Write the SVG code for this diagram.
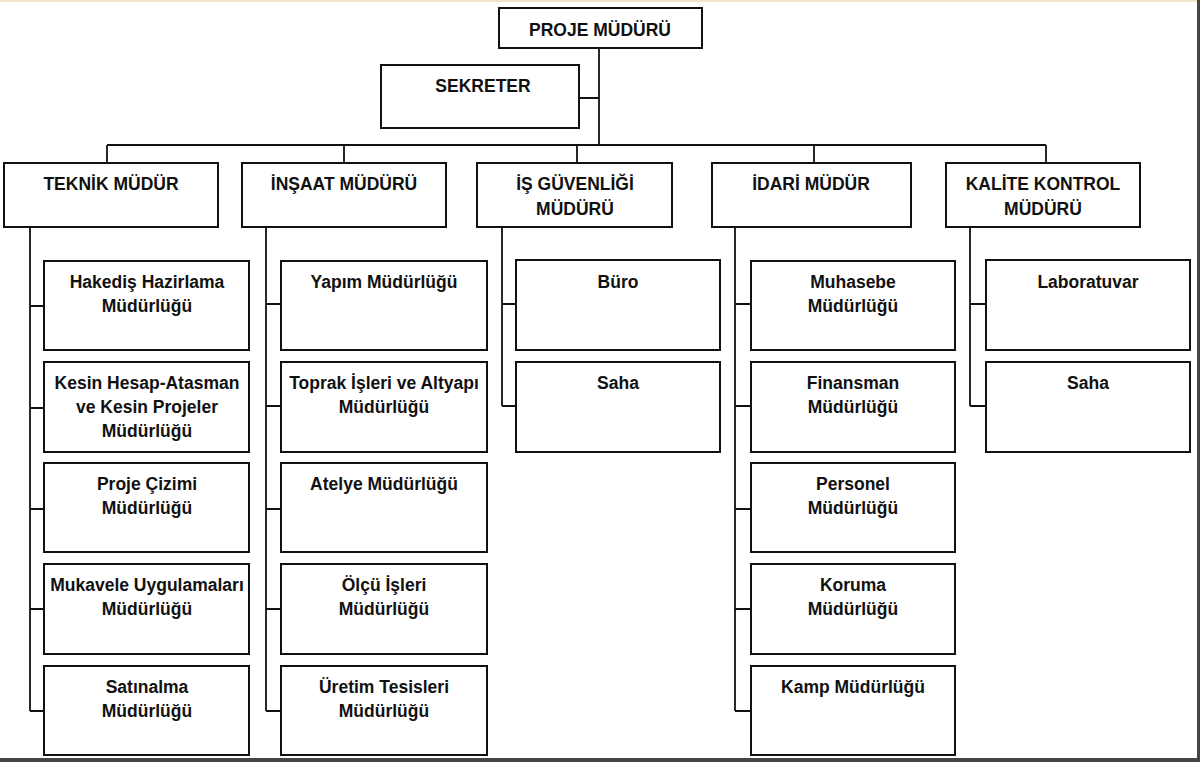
<svg xmlns="http://www.w3.org/2000/svg" width="1200" height="762" viewBox="0 0 1200 762">
<style>
.b{fill:#fff;stroke:#111;stroke-width:2}
.t{font-family:"Liberation Sans",Arial,sans-serif;font-weight:bold;font-size:17.5px;fill:#111;text-anchor:middle}
.c{fill:none;stroke:#111;stroke-width:1.8}
</style>
<rect x="0" y="0" width="1200" height="762" fill="#fff"/>
<rect x="0" y="0" width="1200" height="2" fill="#efe6c8"/>
<rect x="1197" y="0" width="3" height="762" fill="#444"/>
<rect x="0" y="758" width="1200" height="4" fill="#444"/>
<g id="connectors">
<path class="c" d="M599 48V145M579 98H599M107 145H1046M107 145V163M344 145V163M577 145V163M814 145V163M1046 145V163"/>
<path class="c" d="M30 227V711M30 306H44M30 408H44M30 509H44M30 609H44M30 711H44"/>
<path class="c" d="M266 227V711M266 304H281M266 406H281M266 509H281M266 609H281M266 711H281"/>
<path class="c" d="M502 227V406M502 304H516M502 406H516"/>
<path class="c" d="M735 227V711M735 304H751M735 406H751M735 509H751M735 609H751M735 711H751"/>
<path class="c" d="M970 227V406M970 304H986M970 406H986"/>
</g>
<g id="proje"><rect class="b" x="499" y="8" width="203" height="40"/><text class="t" x="600" y="36">PROJE MÜDÜRÜ</text></g>
<g id="sekreter"><rect class="b" x="381" y="65" width="198" height="63"/><text class="t" x="483" y="92">SEKRETER</text></g>
<g id="teknik"><rect class="b" x="4" y="163" width="214" height="64"/><text class="t" x="111" y="190">TEKNİK MÜDÜR</text></g>
<g id="insaat"><rect class="b" x="242" y="163" width="204" height="64"/><text class="t" x="344" y="190">İNŞAAT MÜDÜRÜ</text></g>
<g id="isg"><rect class="b" x="477" y="163" width="195" height="64"/><text class="t" x="575" y="190">İŞ GÜVENLİĞİ</text><text class="t" x="575" y="215">MÜDÜRÜ</text></g>
<g id="idari"><rect class="b" x="712" y="163" width="199" height="64"/><text class="t" x="811" y="190">İDARİ MÜDÜR</text></g>
<g id="kalite"><rect class="b" x="946" y="163" width="194" height="64"/><text class="t" x="1043" y="190">KALİTE KONTROL</text><text class="t" x="1043" y="215">MÜDÜRÜ</text></g>

<g id="hakedis"><rect class="b" x="44" y="261" width="205" height="89"/><text class="t" x="147" y="288">Hakediş Hazirlama</text><text class="t" x="147" y="312">Müdürlüğü</text></g>
<g id="kesin"><rect class="b" x="44" y="362" width="205" height="90"/><text class="t" x="147" y="389">Kesin Hesap-Atasman</text><text class="t" x="147" y="413">ve Kesin Projeler</text><text class="t" x="147" y="437">Müdürlüğü</text></g>
<g id="cizim"><rect class="b" x="44" y="463" width="205" height="89"/><text class="t" x="147" y="490">Proje Çizimi</text><text class="t" x="147" y="514">Müdürlüğü</text></g>
<g id="mukavele"><rect class="b" x="44" y="564" width="205" height="90"/><text class="t" x="147" y="591">Mukavele Uygulamaları</text><text class="t" x="147" y="615">Müdürlüğü</text></g>
<g id="satinalma"><rect class="b" x="44" y="666" width="205" height="89"/><text class="t" x="147" y="693">Satınalma</text><text class="t" x="147" y="717">Müdürlüğü</text></g>

<g id="yapim"><rect class="b" x="281" y="261" width="206" height="89"/><text class="t" x="384" y="288">Yapım Müdürlüğü</text></g>
<g id="toprak"><rect class="b" x="281" y="362" width="206" height="90"/><text class="t" x="384" y="389">Toprak İşleri ve Altyapı</text><text class="t" x="384" y="413">Müdürlüğü</text></g>
<g id="atelye"><rect class="b" x="281" y="463" width="206" height="89"/><text class="t" x="384" y="490">Atelye Müdürlüğü</text></g>
<g id="olcu"><rect class="b" x="281" y="564" width="206" height="90"/><text class="t" x="384" y="591">Ölçü İşleri</text><text class="t" x="384" y="615">Müdürlüğü</text></g>
<g id="uretim"><rect class="b" x="281" y="666" width="206" height="89"/><text class="t" x="384" y="693">Üretim Tesisleri</text><text class="t" x="384" y="717">Müdürlüğü</text></g>

<g id="buro"><rect class="b" x="516" y="260" width="204" height="90"/><text class="t" x="618" y="288">Büro</text></g>
<g id="saha1"><rect class="b" x="516" y="362" width="204" height="90"/><text class="t" x="618" y="389">Saha</text></g>

<g id="muhasebe"><rect class="b" x="751" y="261" width="204" height="89"/><text class="t" x="853" y="288">Muhasebe</text><text class="t" x="853" y="312">Müdürlüğü</text></g>
<g id="finansman"><rect class="b" x="751" y="362" width="204" height="90"/><text class="t" x="853" y="389">Finansman</text><text class="t" x="853" y="413">Müdürlüğü</text></g>
<g id="personel"><rect class="b" x="751" y="463" width="204" height="89"/><text class="t" x="853" y="490">Personel</text><text class="t" x="853" y="514">Müdürlüğü</text></g>
<g id="koruma"><rect class="b" x="751" y="564" width="204" height="90"/><text class="t" x="853" y="591">Koruma</text><text class="t" x="853" y="615">Müdürlüğü</text></g>
<g id="kamp"><rect class="b" x="751" y="666" width="204" height="89"/><text class="t" x="853" y="693">Kamp Müdürlüğü</text></g>

<g id="lab"><rect class="b" x="986" y="260" width="204" height="90"/><text class="t" x="1088" y="288">Laboratuvar</text></g>
<g id="saha2"><rect class="b" x="986" y="362" width="204" height="90"/><text class="t" x="1088" y="389">Saha</text></g>
</svg>
